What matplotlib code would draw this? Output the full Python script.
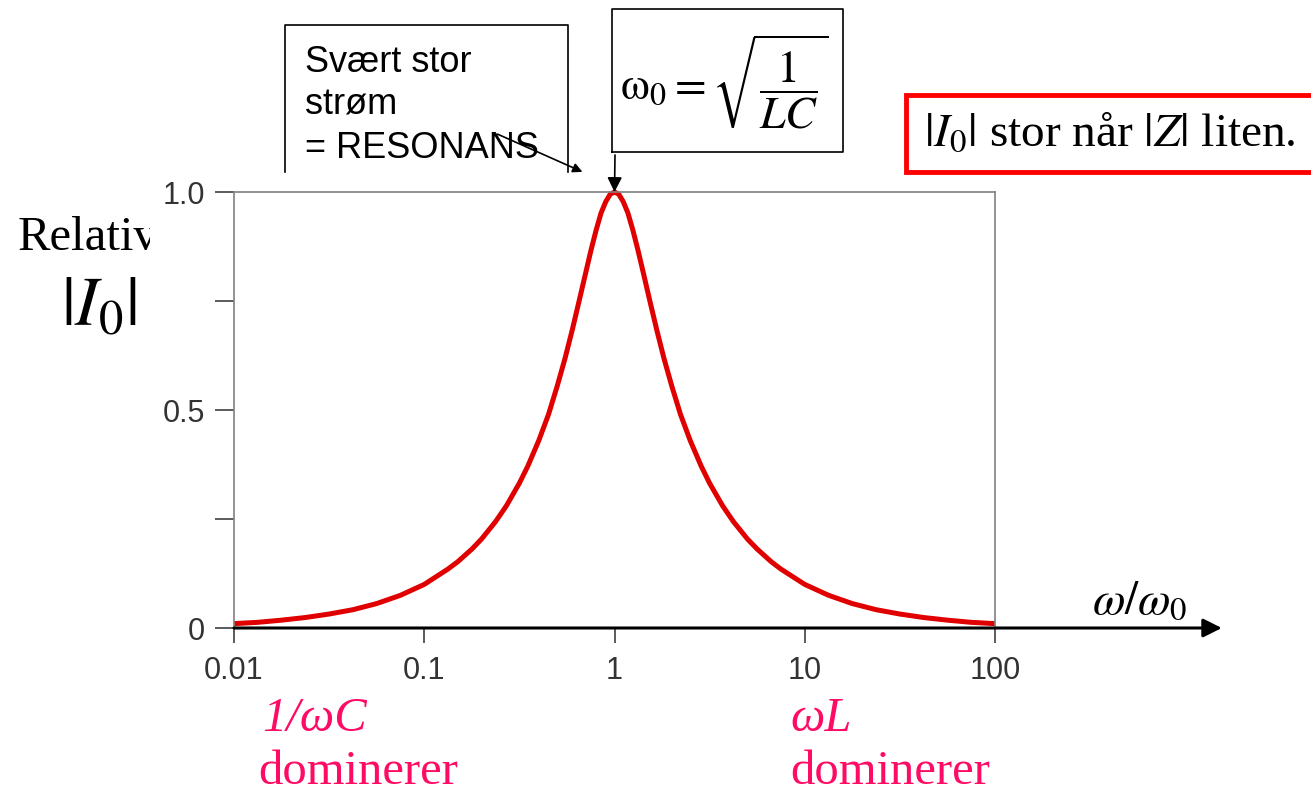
import matplotlib
matplotlib.use('Agg')
import matplotlib.pyplot as plt
from matplotlib.lines import Line2D
from matplotlib.patches import Rectangle, FancyArrowPatch

plt.rcParams['mathtext.fontset'] = 'stix'

# frekvensforhold omega/omega0 (log-akse)
forhold = [0.01, 0.0133, 0.0178, 0.0237, 0.0316, 0.0422, 0.0562, 0.075, 0.1,
           0.133, 0.15, 0.178, 0.2, 0.237, 0.27, 0.316, 0.35, 0.4, 0.45, 0.5,
           0.55, 0.6, 0.65, 0.7, 0.75, 0.8, 0.85, 0.9, 0.95, 1.0,
           1.053, 1.111, 1.176, 1.25, 1.333, 1.429, 1.538, 1.667, 1.818, 2.0,
           2.222, 2.5, 2.857, 3.162, 3.704, 4.217, 5.0, 5.623, 6.667, 7.499,
           10.0, 13.34, 17.78, 23.71, 31.62, 42.17, 56.23, 74.99, 100.0]
# relativ strøm |I0|
strom = [0.010, 0.013, 0.018, 0.024, 0.032, 0.042, 0.056, 0.075, 0.100,
         0.135, 0.152, 0.181, 0.204, 0.244, 0.280, 0.332, 0.371, 0.430, 0.490,
         0.555, 0.619, 0.684, 0.748, 0.808, 0.864, 0.912, 0.952, 0.978, 0.995,
         1.000,
         0.995, 0.978, 0.952, 0.912, 0.864, 0.808, 0.748, 0.684, 0.619, 0.555,
         0.490, 0.430, 0.371, 0.332, 0.280, 0.244, 0.204, 0.181, 0.152, 0.135,
         0.100, 0.075, 0.056, 0.042, 0.032, 0.024, 0.018, 0.013, 0.010]

x_ticks = [0.01, 0.1, 1, 10, 100]
x_labels = ['0.01', '0.1', '1', '10', '100']
y_ticks = [0, 0.25, 0.5, 0.75, 1.0]
y_labels = ['0', '', '0.5', '', '1.0']

W, H = 1311, 793
fig = plt.figure(figsize=(W / 100, H / 100), dpi=100)


def fx(px):
    return px / W


def fy(py):
    return 1 - py / H


ax = fig.add_axes([fx(234), fy(628), (995 - 234) / W, (628 - 192) / H])
ax.plot(forhold, strom, color='#e00000', linewidth=3.6, solid_capstyle='butt',
        clip_on=False)
ax.set_xscale('log')
ax.set_xlim(0.01, 100)
ax.set_ylim(0, 1.0)
ax.set_xticks(x_ticks)
ax.set_xticklabels(x_labels)
ax.set_xticks([], minor=True)
ax.set_yticks(y_ticks)
ax.set_yticklabels(y_labels)
for s in ['left', 'right', 'top']:
    ax.spines[s].set_color('#808080')
    ax.spines[s].set_linewidth(1.2)
ax.spines['bottom'].set_visible(False)
ax.tick_params(axis='y', length=14, width=1.2, color='#404040', pad=7,
               labelsize=22, labelcolor='#333333')
ax.tick_params(axis='x', length=11, width=1.2, color='#404040', pad=9,
               labelsize=22, labelcolor='#333333')
for lab in ax.get_xticklabels() + ax.get_yticklabels():
    lab.set_fontfamily(['Liberation Sans', 'DejaVu Sans'])

# x-akse med pil
ax.annotate('', xy=(1.298, 0), xycoords='axes fraction', xytext=(0, 0),
            textcoords='axes fraction', annotation_clip=False,
            arrowprops=dict(arrowstyle='-|>', color='black', lw=2.2,
                            mutation_scale=28, shrinkA=0, shrinkB=0))
fig.text(fx(1140), fy(601), r'$\omega/\omega_0$', fontsize=34,
         ha='center', va='center')

# y-aksetekst (avkuttet som i originalen)
rel = fig.text(fx(18), fy(238), 'Relative', fontsize=35,
               family='Liberation Serif', ha='left', va='center')
rel.set_clip_path(Rectangle((0, 0), fx(150), 1, transform=fig.transFigure))
fig.text(fx(99), fy(306), r'$|I_0|$', fontsize=50, ha='center', va='center')

# boks: Svært stor strøm
fig.add_artist(Line2D([fx(285), fx(285), fx(568), fx(568)],
                      [fy(172), fy(25), fy(25), fy(172)],
                      color='black', lw=1.2))
for tekst, py in [('Svært stor', 62), ('strøm', 105), ('= RESONANS', 149)]:
    fig.text(fx(305), fy(py), tekst, fontsize=26, family='Liberation Sans',
             ha='left', va='center')
fig.add_artist(FancyArrowPatch(
    (fx(495), fy(133)), (fx(585), fy(173)), transform=fig.transFigure,
    arrowstyle='-|>', mutation_scale=14, color='black', lw=1.2))

# boks: omega0
fig.add_artist(Line2D([fx(612), fx(612), fx(843), fx(843), fx(612)],
                      [fy(152), fy(9), fy(9), fy(152), fy(152)],
                      color='black', lw=1.2))
fig.text(fx(724), fy(82), r'$\mathrm{\omega}_0 = \sqrt{\dfrac{1}{LC}}$',
         fontsize=33, ha='center', va='center')
ax.annotate('', xy=(1, 1.0), xycoords='data', xytext=(fx(615), fy(155)),
            textcoords='figure fraction', annotation_clip=False,
            arrowprops=dict(arrowstyle='-|>', color='black', lw=1.2,
                            mutation_scale=22, shrinkA=0, shrinkB=0))

# rød boks
fig.patches.append(Rectangle((fx(906), fy(172)), (1330 - 906) / W, 77 / H,
                             transform=fig.transFigure, facecolor='white',
                             edgecolor='#ff0000', linewidth=3.5))
fig.text(fx(924), fy(134), r'$|I_0|$ stor når $|Z|$ liten.', fontsize=34,
         family='Liberation Serif', ha='left', va='center')

# rosa tekster
rosa = '#ff0a64'
fig.text(fx(262), fy(719), '1/ωC', fontsize=35, family='Liberation Serif',
         style='italic', color=rosa, ha='left', va='center')
fig.text(fx(258), fy(772), 'dominerer', fontsize=35, family='Liberation Serif',
         color=rosa, ha='left', va='center')
fig.text(fx(790), fy(719), 'ωL', fontsize=35, family='Liberation Serif',
         style='italic', color=rosa, ha='left', va='center')
fig.text(fx(790), fy(772), 'dominerer', fontsize=35, family='Liberation Serif',
         color=rosa, ha='left', va='center')

fig.savefig('out.png', dpi=100)
